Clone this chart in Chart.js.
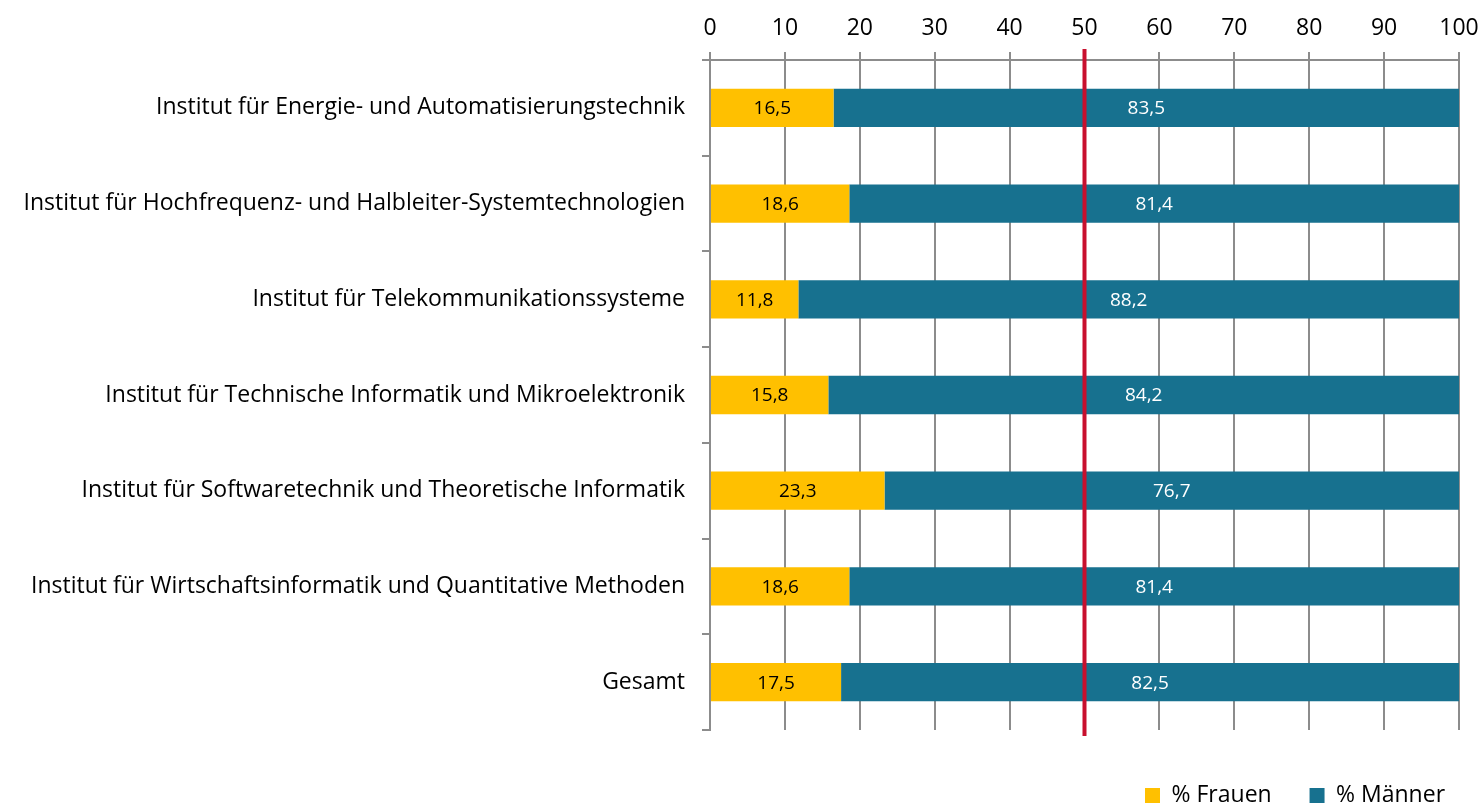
<!DOCTYPE html>
<html>
<head>
<meta charset="utf-8">
<script src="https://cdn.jsdelivr.net/npm/chart.js@4.4.1/dist/chart.umd.min.js"></script>
<style>
  html, body { margin: 0; padding: 0; background: #fff; }
  #wrap { width: 1484px; height: 805px; }
</style>
</head>
<body>
<div id="wrap"><canvas id="genderChart" width="1484" height="805"></canvas></div>
<script>
const categories = [
    'Institut für Energie- und Automatisierungstechnik',
    'Institut für Hochfrequenz- und Halbleiter-Systemtechnologien',
    'Institut für Telekommunikationssysteme',
    'Institut für Technische Informatik und Mikroelektronik',
    'Institut für Softwaretechnik und Theoretische Informatik',
    'Institut für Wirtschaftsinformatik und Quantitative Methoden',
    'Gesamt'
];
const frauen = [16.5, 18.6, 11.8, 15.8, 23.3, 18.6, 17.5];
const maenner = [83.5, 81.4, 88.2, 84.2, 76.7, 81.4, 82.5];
const xTicks = [0, 10, 20, 30, 40, 50, 60, 70, 80, 90, 100];
const markerValue = 50;

const FONT = '"Open Sans", Lato, sans-serif';
const GRID = '#8c8c8c';

// rote Linie bei 50 %
const markerLine = {
    id: 'markerLine',
    afterDatasetsDraw(chart) {
        const ctx = chart.ctx;
        const x = chart.scales.x.getPixelForValue(markerValue);
        const area = chart.chartArea;
        ctx.save();
        ctx.strokeStyle = '#c8102e';
        ctx.lineWidth = 4;
        ctx.beginPath();
        ctx.moveTo(x, area.top - 11);
        ctx.lineTo(x, area.bottom + 6);
        ctx.stroke();
        ctx.restore();
    }
};

// Werte mittig in die Balken schreiben
const barLabels = {
    id: 'barLabels',
    afterDatasetsDraw(chart) {
        const ctx = chart.ctx;
        ctx.save();
        ctx.font = '19px ' + FONT;
        ctx.textAlign = 'center';
        ctx.textBaseline = 'middle';
        chart.data.datasets.forEach((ds, i) => {
            const meta = chart.getDatasetMeta(i);
            meta.data.forEach((bar, j) => {
                const cx = (bar.x + bar.base) / 2;
                ctx.fillStyle = i === 0 ? '#000000' : '#ffffff';
                ctx.fillText(String(ds.data[j]).replace('.', ','), cx, bar.y + 1);
            });
        });
        ctx.restore();
    }
};

// Platz unter dem Diagramm für die Legende
const legendSpace = {
    id: 'legendSpace',
    beforeInit(chart) {
        const fit = chart.legend.fit;
        chart.legend.fit = function () {
            fit.call(this);
            this.height = 75;
        };
    }
};

const ctx = document.getElementById('genderChart').getContext('2d');
new Chart(ctx, {
    type: 'bar',
    data: {
        labels: categories,
        datasets: [
            { label: '% Frauen', data: frauen, backgroundColor: '#ffc000' },
            { label: '% Männer', data: maenner, backgroundColor: '#17718f' }
        ]
    },
    options: {
        indexAxis: 'y',
        responsive: false,
        animation: false,
        layout: { padding: { top: 0, right: 25, bottom: 0, left: 0 } },
        datasets: { bar: { categoryPercentage: 1, barPercentage: 0.4 } },
        plugins: {
            legend: {
                position: 'bottom',
                align: 'end',
                title: { display: true, text: '', font: { size: 10, lineHeight: 1 }, padding: { top: 36, bottom: 0 } },
                labels: {
                    boxWidth: 15,
                    boxHeight: 15,
                    padding: 8,
                    color: '#000',
                    font: { family: FONT, size: 23 },
                    generateLabels(chart) {
                        return chart.data.datasets.map((ds, i) => ({
                            text: i === 0 ? ds.label + '     ' : ds.label + ' ',
                            fillStyle: ds.backgroundColor,
                            strokeStyle: ds.backgroundColor,
                            fontColor: '#000',
                            lineWidth: 0,
                            hidden: false,
                            datasetIndex: i
                        }));
                    }
                }
            },
            tooltip: { enabled: false }
        },
        scales: {
            x: {
                position: 'top',
                stacked: true,
                min: 0,
                max: 100,
                afterBuildTicks(scale) { scale.ticks = xTicks.map(v => ({ value: v })); },
                afterFit(scale) {
                    scale.height = 60;
                    scale.paddingRight = 0;
                    scale.paddingLeft = 0;
                },
                grid: { color: GRID, lineWidth: 2, tickLength: 8 },
                border: { color: GRID, width: 2 },
                ticks: { color: '#000', padding: 10, font: { family: FONT, size: 23 } }
            },
            y: {
                stacked: true,
                afterFit(scale) { scale.width = 710; },
                grid: { offset: true, drawOnChartArea: false, color: GRID, lineWidth: 2, tickLength: 8 },
                border: { color: GRID, width: 2 },
                ticks: { color: '#000', padding: 17, font: { family: FONT, size: 23 } }
            }
        }
    },
    plugins: [markerLine, barLabels, legendSpace]
});
</script>
</body>
</html>
